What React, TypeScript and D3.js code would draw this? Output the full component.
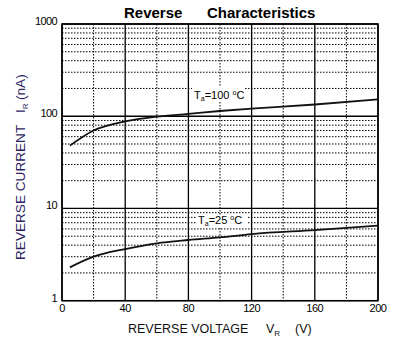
import React from "react";
import * as d3 from "d3";

const voltages = [5, 20, 40, 60, 80, 100, 120, 160, 200];
const ir100 = [48, 70, 88, 99, 106, 114, 121, 134, 152];
const ir25 = [2.3, 3.0, 3.63, 4.19, 4.55, 4.86, 5.28, 5.83, 6.5];
const xTicks = [0, 40, 80, 120, 160, 200];
const xMinor = [20, 60, 100, 140, 180];
const yTicks = [1, 10, 100, 1000];

const W = 410, H = 358;
const L = 62, R = 378, T = 24, B = 300.7;

export default function App() {
  const x = d3.scaleLinear().domain([0, 200]).range([L, R]);
  const y = d3.scaleLog().domain([1, 1000]).range([B, T]);
  const yMinor: number[] = [];
  [1, 10, 100].forEach((d) => {
    for (let k = 2; k <= 9; k++) yMinor.push(d * k);
  });
  const line = d3
    .line<number>()
    .x((_, i) => x(voltages[i]))
    .y((v) => y(v))
    .curve(d3.curveMonotoneX);
  const font = "Arial, 'Liberation Sans', sans-serif";
  return (
    <svg width={W} height={H} style={{ position: "absolute", left: 0, top: 0, background: "#fff" }} fontFamily={font}>
      <rect x={0} y={0} width={W} height={H} fill="#fff" />
      {/* minor grid */}
      {yMinor.map((v) => (
        <line key={"ym" + v} x1={L} x2={R} y1={y(v)} y2={y(v)} stroke="#000" strokeWidth={1} strokeDasharray="1.5,1.5" />
      ))}
      {xMinor.map((v) => (
        <line key={"xm" + v} x1={x(v)} x2={x(v)} y1={T} y2={B} stroke="#000" strokeWidth={1} strokeDasharray="1.5,1.5" />
      ))}
      {/* label backgrounds masking minor grid */}
      <rect x={192} y={86} width={53} height={15} fill="#fff" />
      <rect x={196} y={215} width={52} height={12} fill="#fff" />
      {/* major grid */}
      {yTicks.map((v) => (
        <line key={"yM" + v} x1={L} x2={R} y1={y(v)} y2={y(v)} stroke="#000" strokeWidth={1.3} />
      ))}
      {xTicks.map((v) => (
        <line key={"xM" + v} x1={x(v)} x2={x(v)} y1={T} y2={B} stroke="#000" strokeWidth={1.3} />
      ))}
      <rect x={L} y={T} width={R - L} height={B - T} fill="none" stroke="#000" strokeWidth={1.5} />
      {/* curves */}
      <path d={line(ir100) || ""} fill="none" stroke="#111" strokeWidth={1.8} />
      <path d={line(ir25) || ""} fill="none" stroke="#111" strokeWidth={1.8} />
      {/* y tick labels */}
      {yTicks.map((v) => (
        <text key={"yl" + v} x={57} y={y(v) - 2} textAnchor="end" dominantBaseline="middle" fontSize={11} letterSpacing={-0.6} fill="#000">
          {v}
        </text>
      ))}
      {/* x tick labels */}
      {xTicks.map((v) => (
        <text key={"xl" + v} x={x(v)} y={312} textAnchor="middle" fontSize={11} letterSpacing={-0.5} fill="#000">
          {v}
        </text>
      ))}
      {/* title */}
      <text x={124} y={17.5} fontSize={15} fontWeight="bold" fill="#000">
        Reverse
      </text>
      <text x={207} y={17.5} fontSize={15} fontWeight="bold" fill="#000">
        Characteristics
      </text>
      {/* annotations */}
      <text x={194} y={99} fontSize={11} fill="#000">
        T<tspan fontSize={7} dy={2}>a</tspan>
        <tspan dy={-2}>=100 </tspan>
        <tspan fontSize={7} dy={-4}>o</tspan>
        <tspan dy={4}>C</tspan>
      </text>
      <text x={198} y={224} fontSize={11} fill="#000">
        T<tspan fontSize={7} dy={2}>a</tspan>
        <tspan dy={-2}>=25 </tspan>
        <tspan fontSize={7} dy={-4}>o</tspan>
        <tspan dy={4}>C</tspan>
      </text>
      {/* x axis title */}
      <text x={128} y={333} fontSize={12.5} fill="#111">
        REVERSE VOLTAGE
        <tspan x={266}>V</tspan>
        <tspan fontSize={8} dy={3}>R</tspan>
        <tspan x={295} dy={-3}>(V)</tspan>
      </text>
      {/* y axis title */}
      <g transform="translate(25,260) rotate(-90)">
        <text x={0} y={0} fontSize={13.6} fill="#2e1f63">
          REVERSE CURRENT
          <tspan x={147}>I</tspan>
          <tspan fontSize={8} dy={3}>R</tspan>
          <tspan x={160} dy={-3}>(nA)</tspan>
        </text>
      </g>
    </svg>
  );
}
